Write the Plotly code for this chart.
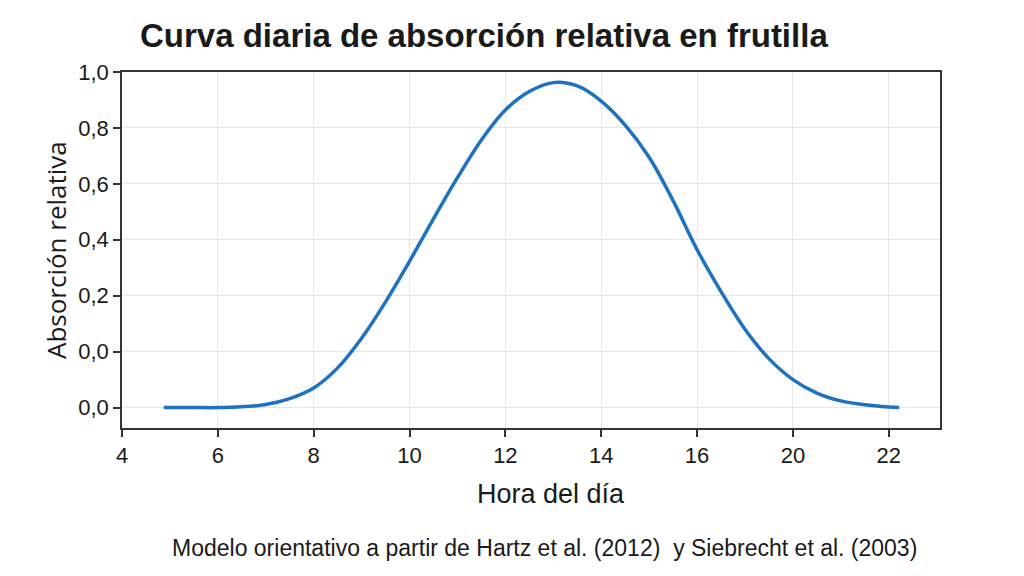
import plotly.graph_objects as go

# Curve (axis units as drawn; baseline sits on the lower "0,0" tick)
hours = [4.87, 5.5, 6.0, 6.5, 7.0, 7.5, 8.0, 8.5, 9.0, 9.5, 10.0, 10.5, 11.0, 11.5,
         12.0, 12.5, 13.0, 13.5, 14.0, 14.5, 15.0, 15.5, 16.0, 16.5, 17.0, 17.5,
         18.0, 18.5, 19.0, 19.5, 20.0, 20.22]
absorption = [-0.2, -0.2, -0.2, -0.197, -0.189, -0.168, -0.13, -0.058, 0.048, 0.178,
              0.323, 0.475, 0.622, 0.757, 0.864, 0.93, 0.962, 0.95, 0.896, 0.81,
              0.695, 0.54, 0.365, 0.215, 0.08, -0.025, -0.10, -0.148, -0.176, -0.19,
              -0.198, -0.2]

x_ticks = [4, 6, 8, 10, 12, 14, 16, 18, 20]
x_labels = ["4", "6", "8", "10", "12", "14", "16", "20", "22"]
y_ticks = [-0.2, 0.0, 0.2, 0.4, 0.6, 0.8, 1.0]
y_labels = ["0,0", "0,0", "0,2", "0,4", "0,6", "0,8", "1,0"]

fig = go.Figure()
fig.add_trace(go.Scatter(
    x=hours, y=absorption, mode="lines",
    line=dict(color="#1f72c0", width=3.5, shape="spline", smoothing=1.0),
    hoverinfo="skip", showlegend=False,
))

axis_common = dict(
    showline=True, linecolor="#333333", linewidth=1.5, mirror=True,
    ticks="outside", ticklen=7, tickcolor="#333333", tickwidth=1.5,
    showgrid=True, gridcolor="#e6e6e6", gridwidth=1, zeroline=False,
    tickfont=dict(family="Liberation Sans, Arial, sans-serif", size=22, color="#1a1a1a"),
)

fig.update_xaxes(range=[4.0, 21.07], tickvals=x_ticks, ticktext=x_labels, **axis_common)
fig.update_yaxes(range=[-0.273, 1.0], tickvals=y_ticks, ticktext=y_labels, **axis_common)

# page body adds an 8px offset, so margins are shifted to compensate
fig.update_layout(
    width=1024, height=576,
    margin=dict(l=114, r=92, t=64, b=156),
    plot_bgcolor="white", paper_bgcolor="white",
    title=dict(
        text="<b>Curva diaria de absorción relativa en frutilla</b>",
        x=132 / 1024, xanchor="left", xref="container",
        y=1 - 27 / 576, yanchor="middle", yref="container",
        font=dict(family="Liberation Sans, Arial, sans-serif", size=33, color="#1a1a1a"),
    ),
)

fig.add_annotation(
    text="Absorción relativa", textangle=-90, showarrow=False,
    xref="paper", yref="paper", x=-0.080, y=0.4986, xanchor="center", yanchor="middle",
    font=dict(family="Open Sans, sans-serif", size=26, color="#1a1a1a"),
)
fig.add_annotation(
    text="Hora del día", showarrow=False,
    xref="paper", yref="paper", x=0.524, y=-0.184, xanchor="center", yanchor="middle",
    font=dict(family="Liberation Sans, Arial, sans-serif", size=27, color="#1a1a1a"),
)
fig.add_annotation(
    text="Modelo orientativo a partir de Hartz et al. (2012)  y Siebrecht et al. (2003)",
    showarrow=False,
    xref="paper", yref="paper", x=0.517, y=-0.338, xanchor="center", yanchor="middle",
    font=dict(family="Liberation Sans, Arial, sans-serif", size=23, color="#1a1a1a"),
)

fig.write_html("out.html")
